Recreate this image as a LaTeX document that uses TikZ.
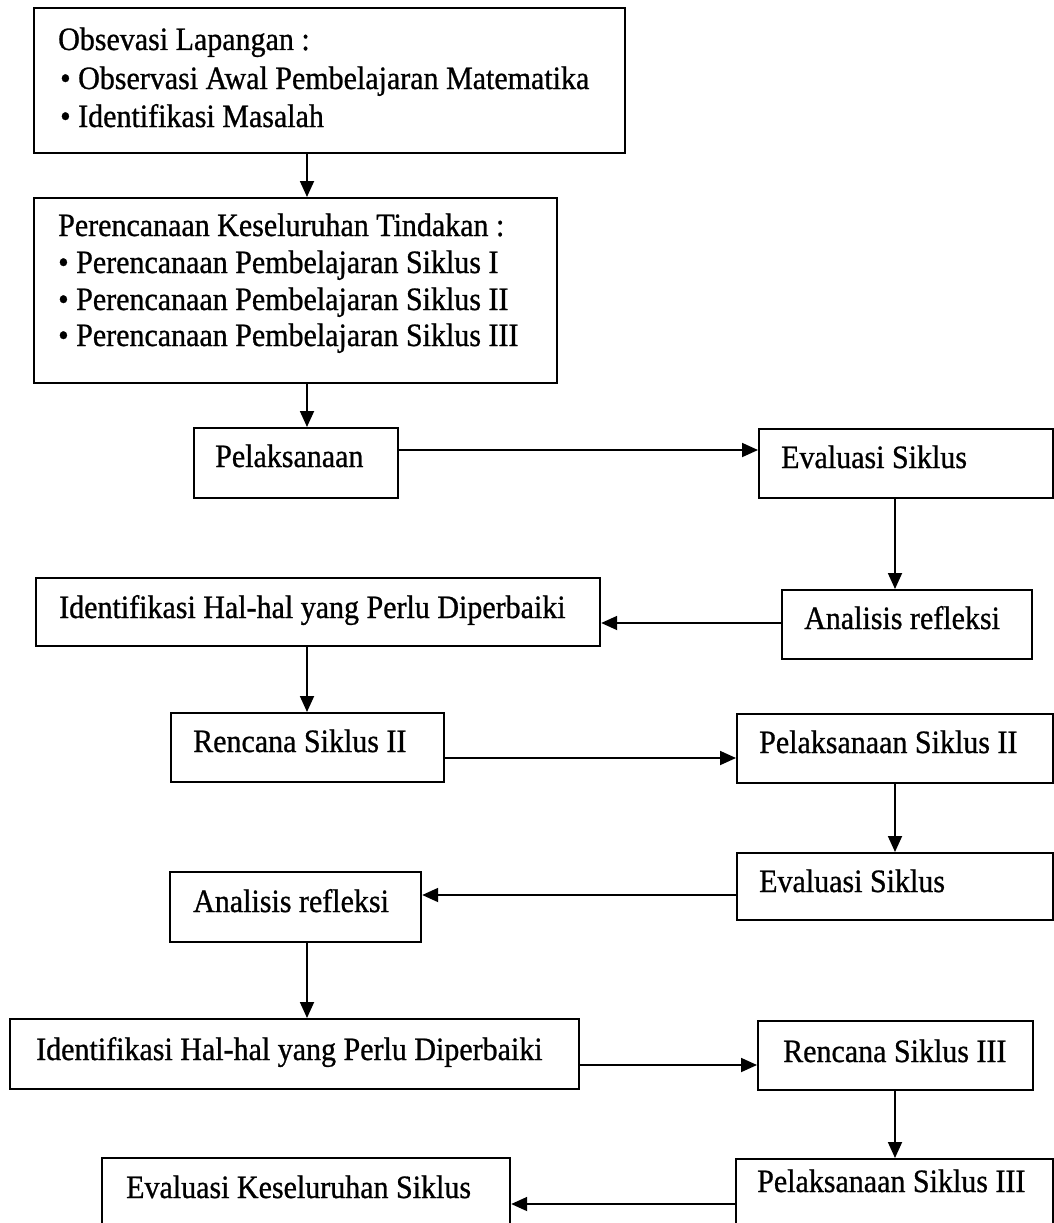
\documentclass[tikz,border=0pt]{standalone}
\usepackage{fontspec}
\setmainfont[FakeStretch=0.92,FakeBold=0.8]{Liberation Serif}
\usetikzlibrary{arrows.meta}
\begin{document}
\begin{tikzpicture}[x=1pt,y=-1pt,
  box/.style={draw, line width=2.2pt, inner sep=0pt, anchor=north west},
  lbl/.style={anchor=base west, inner sep=0pt, font=\fontsize{32.6}{38}\selectfont},
  arr/.style={line width=1.8pt, -{Triangle[length=16pt,width=14pt]}}]
\useasboundingbox (0,0) rectangle (1054,1223);
\begin{scope}
\clip (0,0) rectangle (1054,1223);
% boxes
\node[box, minimum width=591pt, minimum height=145pt] (obs) at (33,7) {};
\node[box, minimum width=523pt, minimum height=185pt] (ren) at (33,197) {};
\node[box, minimum width=204pt, minimum height=70pt] (pel) at (193,427) {};
\node[box, minimum width=294pt, minimum height=69pt] (ev1) at (758,428) {};
\node[box, minimum width=250pt, minimum height=69pt] (an1) at (781,589) {};
\node[box, minimum width=564pt, minimum height=68pt] (id1) at (35,577) {};
\node[box, minimum width=273pt, minimum height=69pt] (rc2) at (170,712) {};
\node[box, minimum width=316pt, minimum height=69pt] (pl2) at (736,713) {};
\node[box, minimum width=316pt, minimum height=67pt] (ev2) at (736,852) {};
\node[box, minimum width=251pt, minimum height=70pt] (an2) at (169,871) {};
\node[box, minimum width=569pt, minimum height=70pt] (id2) at (9,1018) {};
\node[box, minimum width=275pt, minimum height=69pt] (rc3) at (757,1020) {};
\node[box, minimum width=317pt, minimum height=80pt] (pl3) at (735,1158) {};
\node[box, minimum width=408pt, minimum height=80pt] (evk) at (101,1157) {};
% texts
\node[lbl] (obsA) at (58,50) {Obsevasi Lapangan :};
\node[lbl] (obsB) at (60,89) {• Observasi Awal Pembelajaran Matematika};
\node[lbl] (obsC) at (60,127) {• Identifikasi Masalah};
\node[lbl] (renA) at (58,236) {Perencanaan Keseluruhan Tindakan :};
\node[lbl] (renB) at (58,273) {• Perencanaan Pembelajaran Siklus I};
\node[lbl] (renC) at (58,310) {• Perencanaan Pembelajaran Siklus II};
\node[lbl] (renD) at (58,346) {• Perencanaan Pembelajaran Siklus III};
\node[lbl] (pelT) at (215,467) {Pelaksanaan};
\node[lbl] (ev1T) at (781,468) {Evaluasi Siklus};
\node[lbl] (an1T) at (804,629) {Analisis refleksi};
\node[lbl] (id1T) at (59,618) {Identifikasi Hal-hal yang Perlu Diperbaiki};
\node[lbl] (rc2T) at (193,752) {Rencana Siklus II};
\node[lbl] (pl2T) at (759,753) {Pelaksanaan Siklus II};
\node[lbl] (ev2T) at (759,892) {Evaluasi Siklus};
\node[lbl] (an2T) at (193,912) {Analisis refleksi};
\node[lbl] (id2T) at (36,1060) {Identifikasi Hal-hal yang Perlu Diperbaiki};
\node[lbl] (rc3T) at (783,1062) {Rencana Siklus III};
\node[lbl] (pl3T) at (757,1192) {Pelaksanaan Siklus III};
\node[lbl] (evkT) at (126,1198) {Evaluasi Keseluruhan Siklus};
% connectors
\coordinate (cL) at (307,0);
\coordinate (cR) at (895,0);
\coordinate (h1) at (0,450);
\coordinate (h2) at (0,623);
\coordinate (h3) at (0,758);
\coordinate (h4) at (0,895);
\coordinate (h5) at (0,1065);
\coordinate (h6) at (0,1204);
\draw[arr] (obs.south -| cL) -- (ren.north -| cL);
\draw[arr] (ren.south -| cL) -- (pel.north -| cL);
\draw[arr] (pel.east |- h1) -- (ev1.west |- h1);
\draw[arr] (ev1.south -| cR) -- (an1.north -| cR);
\draw[arr] (an1.west |- h2) -- (id1.east |- h2);
\draw[arr] (id1.south -| cL) -- (rc2.north -| cL);
\draw[arr] (rc2.east |- h3) -- (pl2.west |- h3);
\draw[arr] (pl2.south -| cR) -- (ev2.north -| cR);
\draw[arr] (ev2.west |- h4) -- (an2.east |- h4);
\draw[arr] (an2.south -| cL) -- (id2.north -| cL);
\draw[arr] (id2.east |- h5) -- (rc3.west |- h5);
\draw[arr] (rc3.south -| cR) -- (pl3.north -| cR);
\draw[arr] (pl3.west |- h6) -- (evk.east |- h6);
\end{scope}
\end{tikzpicture}
\end{document}
